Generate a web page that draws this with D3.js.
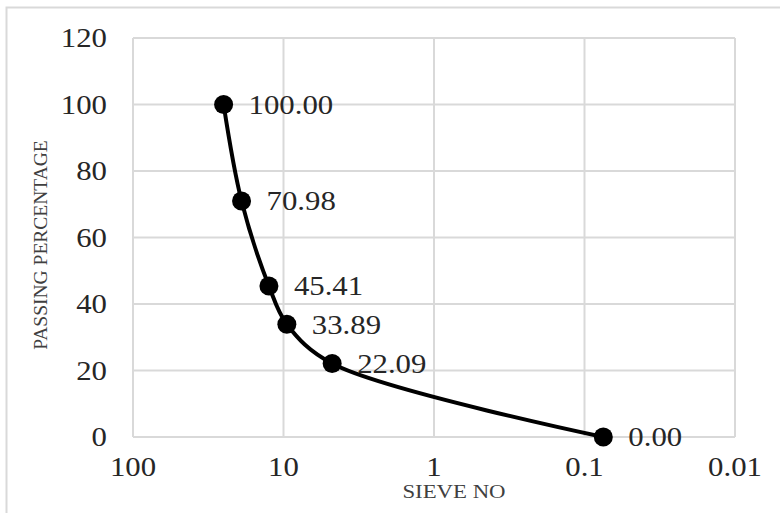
<!DOCTYPE html>
<html>
<head>
<meta charset="utf-8">
<script src="https://cdn.jsdelivr.net/npm/d3@7"></script>
<style>
  body { margin: 0; background: #fff; }
  text { font-family: "Liberation Serif", "Times New Roman", serif; }
</style>
</head>
<body>
<div id="chart"></div>
<script>
// sieve opening (mm) and percent passing
const sieveSizes = [25, 19, 12.5, 9.5, 4.75, 0.075];
const passing = [100, 70.98, 45.41, 33.89, 22.09, 0];
const xTicks = [100, 10, 1, 0.1, 0.01];
const yTicks = [0, 20, 40, 60, 80, 100, 120];

const width = 780, height = 513;
const margin = { top: 38, right: 45, bottom: 76, left: 133 };
const stretch = 1.14; // the source picture's text is a bit wide

const svg = d3.select("#chart")
  .append("svg")
  .attr("width", width)
  .attr("height", height);

// outer chart frame
svg.append("rect")
  .attr("x", 6.5).attr("y", 7.5)
  .attr("width", width + 20).attr("height", height + 20)
  .attr("fill", "none")
  .attr("stroke", "#d9d9d9")
  .attr("stroke-width", 2);

const x = d3.scaleLog()
  .domain([100, 0.01])
  .range([margin.left, width - margin.right]);

const y = d3.scaleLinear()
  .domain([0, 120])
  .range([height - margin.bottom, margin.top]);

// gridlines
const grid = svg.append("g").attr("stroke", "#d9d9d9").attr("stroke-width", 2);
grid.selectAll(".h")
  .data(yTicks)
  .join("line")
  .attr("x1", x(100)).attr("x2", x(0.01))
  .attr("y1", d => y(d)).attr("y2", d => y(d));
grid.selectAll(".v")
  .data(xTicks)
  .join("line")
  .attr("x1", d => x(d)).attr("x2", d => x(d))
  .attr("y1", y(0)).attr("y2", y(120));

// tick labels
svg.append("g")
  .selectAll("text")
  .data(yTicks)
  .join("text")
  .attr("transform", d => `translate(${margin.left - 26},${y(d)}) scale(${stretch},1)`)
  .attr("dy", "0.35em")
  .attr("text-anchor", "end")
  .attr("font-size", 27)
  .attr("fill", "#262626")
  .text(d => d);

svg.append("g")
  .selectAll("text")
  .data(xTicks)
  .join("text")
  .attr("transform", d => `translate(${x(d)},${y(0) + 30}) scale(${stretch},1)`)
  .attr("dy", "0.35em")
  .attr("text-anchor", "middle")
  .attr("font-size", 27)
  .attr("fill", "#262626")
  .text(d => d);

// axis titles
svg.append("text")
  .attr("transform", `translate(454,491) scale(1.2,1)`)
  .attr("dy", "0.35em")
  .attr("text-anchor", "middle")
  .attr("font-size", 19)
  .attr("fill", "#404040")
  .text("SIEVE NO");

svg.append("text")
  .attr("transform", "translate(40,245) rotate(-90)")
  .attr("dy", "0.35em")
  .attr("text-anchor", "middle")
  .attr("font-size", 19.5)
  .attr("fill", "#404040")
  .text("PASSING PERCENTAGE");

const points = sieveSizes.map((s, i) => ({ s, p: passing[i] }));

const line = d3.line()
  .x(d => x(d.s))
  .y(d => y(d.p))
  .curve(d3.curveCatmullRom.alpha(0.5));

svg.append("path")
  .datum(points)
  .attr("d", line)
  .attr("fill", "none")
  .attr("stroke", "#000")
  .attr("stroke-width", 4);

svg.append("g")
  .selectAll("circle")
  .data(points)
  .join("circle")
  .attr("cx", d => x(d.s))
  .attr("cy", d => y(d.p))
  .attr("r", 9.5)
  .attr("fill", "#000");

svg.append("g")
  .selectAll("text")
  .data(points)
  .join("text")
  .attr("transform", d => `translate(${x(d.s) + 25},${y(d.p)}) scale(${stretch},1)`)
  .attr("dy", "0.35em")
  .attr("font-size", 27)
  .attr("fill", "#262626")
  .text(d => d.p.toFixed(2));
</script>
</body>
</html>
